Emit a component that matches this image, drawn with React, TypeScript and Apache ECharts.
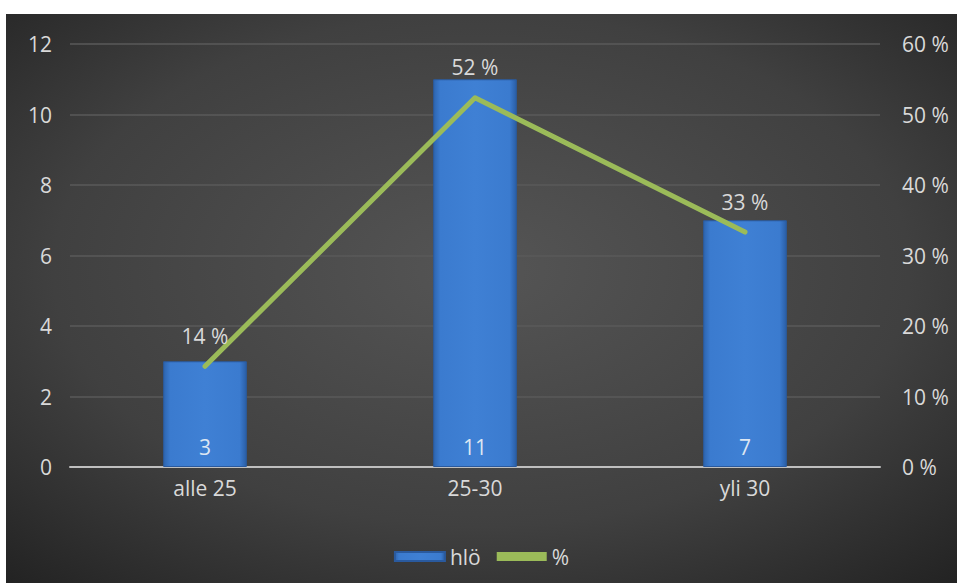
import React, { useEffect, useRef } from "react";
import * as echarts from "echarts";

const categories = ["alle 25", "25-30", "yli 30"];
const countValues = [3, 11, 7];
const percentValues = [14.29, 52.38, 33.33];
const percentLabels = ["14 %", "52 %", "33 %"];

const FONT = "'Open Sans', 'Noto Sans', sans-serif";
const TEXT = "#d9d9d9";
const FS = 21;
const GREEN = "#9bbb59";

export default function App() {
  const ref = useRef<HTMLDivElement>(null);
  useEffect(() => {
    if (!ref.current) return;
    const chart = echarts.init(ref.current, undefined, { renderer: "svg" });
    chart.setOption({
      animation: false,
      backgroundColor: {
        type: "radial",
        x: 0.5,
        y: 0.45,
        r: 0.75,
        colorStops: [
          { offset: 0, color: "#555555" },
          { offset: 0.6, color: "#404040" },
          { offset: 1, color: "#222222" },
        ],
      },
      textStyle: { fontFamily: FONT },
      grid: { left: 64, right: 77, top: 30, bottom: 116, containLabel: false },
      legend: {
        top: 527,
        left: "center",
        itemWidth: 50,
        itemHeight: 9,
        itemGap: 16,
        textStyle: { color: TEXT, fontSize: FS, fontFamily: FONT },
        data: [
          { name: "hlö", icon: "rect" },
          { name: "%", icon: "rect", itemStyle: { color: GREEN, opacity: 1 } },
        ],
      },
      xAxis: {
        type: "category",
        data: categories,
        axisLine: { lineStyle: { color: "#bfbfbf", width: 2 } },
        axisTick: { show: false },
        axisLabel: { color: TEXT, fontSize: FS, margin: 10, fontFamily: FONT },
      },
      yAxis: [
        {
          type: "value",
          min: 0,
          max: 12,
          interval: 2,
          axisLine: { show: false },
          axisTick: { show: false },
          axisLabel: { color: TEXT, fontSize: FS, margin: 18, fontFamily: FONT },
          splitLine: { lineStyle: { color: "#5a5a5a", width: 1.5 } },
        },
        {
          type: "value",
          min: 0,
          max: 60,
          interval: 10,
          axisLine: { show: false },
          axisTick: { show: false },
          axisLabel: {
            color: TEXT,
            fontSize: FS,
            margin: 22,
            fontFamily: FONT,
            formatter: (v: number) => v + " %",
          },
          splitLine: { show: false },
        },
      ],
      series: [
        {
          name: "hlö",
          type: "bar",
          data: countValues,
          barWidth: "31%",
          itemStyle: {
            color: {
              type: "linear",
              x: 0,
              y: 0,
              x2: 1,
              y2: 0,
              colorStops: [
                { offset: 0, color: "#2d65b0" },
                { offset: 0.08, color: "#3b7bcf" },
                { offset: 0.5, color: "#3f80d4" },
                { offset: 0.92, color: "#3b7bcf" },
                { offset: 1, color: "#2a5ea6" },
              ],
            },
            borderColor: "#2a5a9e",
            borderWidth: 1,
          },
          label: {
            show: true,
            position: "insideBottom",
            distance: 10,
            color: "#dce6f2",
            fontSize: FS,
            fontFamily: FONT,
          },
          z: 2,
        },
        {
          name: "%",
          type: "line",
          yAxisIndex: 1,
          data: percentValues,
          symbol: "circle",
          symbolSize: 2,
          showSymbol: true,
          lineStyle: { color: GREEN, width: 5, cap: "round", join: "round" },
          itemStyle: { color: GREEN },
          label: {
            show: true,
            position: "top",
            distance: 19,
            color: TEXT,
            fontSize: FS,
            fontFamily: FONT,
            formatter: (p: any) => percentLabels[p.dataIndex],
          },
          labelLayout: { hideOverlap: false },
          z: 3,
        },
      ],
    });
    return () => chart.dispose();
  }, []);
  return (
    <div style={{ position: "fixed", left: 0, top: 0, width: 957, height: 583, background: "#ffffff" }}>
      <div ref={ref} style={{ position: "absolute", left: 6, top: 14, width: 951, height: 569 }} />
    </div>
  );
}
